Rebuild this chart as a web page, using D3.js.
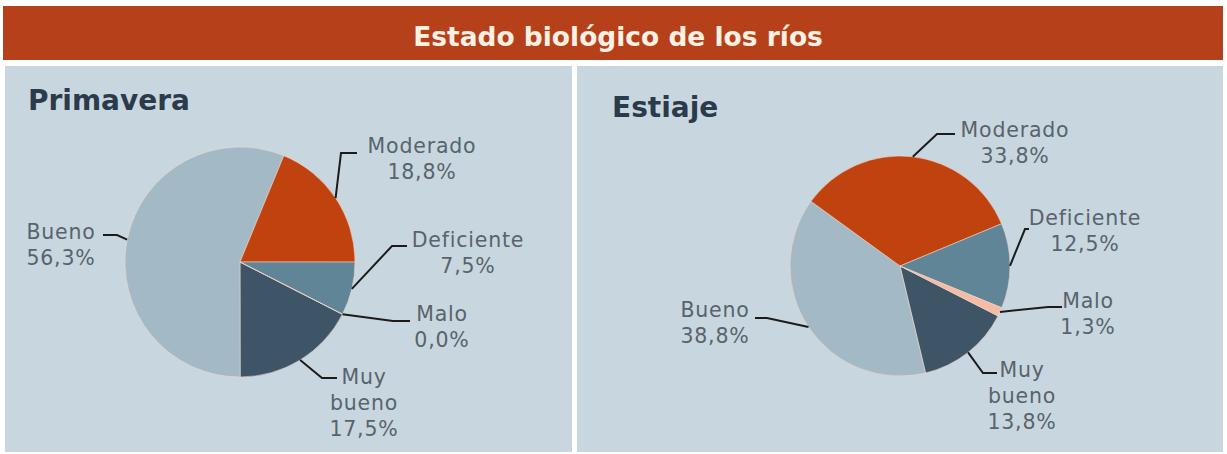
<!DOCTYPE html>
<html>
<head>
<meta charset="utf-8">
<script src="https://cdn.jsdelivr.net/npm/d3@7"></script>
<style>
  html, body { margin: 0; padding: 0; background: #ffffff; }
  svg { display: block; }
</style>
</head>
<body>
<svg id="chart" width="1227" height="454"></svg>
<script>
// ---------- DATA ----------
const title = "Estado biológico de los ríos";
const categories = ["Muy bueno", "Bueno", "Moderado", "Deficiente", "Malo"];
const labelLines = [["Muy", "bueno"], ["Bueno"], ["Moderado"], ["Deficiente"], ["Malo"]];
const panelTitles = ["Primavera", "Estiaje"];
const primaveraValues = [17.5, 56.3, 18.8, 7.5, 0.0];
const estiajeValues = [13.8, 38.8, 33.8, 12.5, 1.3];
const primaveraLabels = ["17,5%", "56,3%", "18,8%", "7,5%", "0,0%"];
const estiajeLabels = ["13,8%", "38,8%", "33,8%", "12,5%", "1,3%"];

// ---------- STYLE / LAYOUT ----------
const colors = ["#3e5568", "#a3b9c5", "#c0420f", "#5f8597", "#f4bca4"];
const W = 1227, H = 454;
const svg = d3.select("#chart");
svg.append("rect").attr("width", W).attr("height", H).attr("fill", "#ffffff");

// title bar
svg.append("rect").attr("x", 3).attr("y", 6).attr("width", 1220).attr("height", 54).attr("fill", "#b6401a");
const t = svg.append("text").attr("x", 618).attr("y", 38).attr("text-anchor", "middle")
  .attr("dominant-baseline", "middle")
  .attr("font-family", "'DejaVu Sans', sans-serif").attr("font-weight", "bold")
  .attr("font-size", 25).attr("fill", "#fdf1e4").text(title);
const tw = t.node().getComputedTextLength();
t.attr("font-size", Math.min(27, 25 * 410 / tw));

// panels layout
const panels = [
  { x: 5, w: 567, titleX: 28, titleY: 110, cx: 240, cy: 262, r: 115,
    values: primaveraValues, texts: primaveraLabels,
    // label anchor, leader elbow, leader end (relative to pie centre), per category
    lay: [
      { lab: [124, 122], elbow: [82, 116], end: [97, 116] },
      { lab: [-179, -23], elbow: [-123, -27], end: [-137, -27] },
      { lab: [182, -109], elbow: [101, -109], end: [117, -109] },
      { lab: [228, -15], elbow: [152, -16], end: [167, -16] },
      { lab: [202, 59], elbow: [153, 59], end: [170, 59] }
    ] },
  { x: 577, w: 646, titleX: 612, titleY: 117, cx: 900, cy: 266, r: 110,
    values: estiajeValues, texts: estiajeLabels,
    lay: [
      { lab: [122, 111], elbow: [83, 107], end: [97, 107] },
      { lab: [-185, 51], elbow: [-133, 52], end: [-145, 52] },
      { lab: [115, -129], elbow: [37, -132], end: [55, -132] },
      { lab: [185, -41], elbow: [125, -37], end: [129, -37] },
      { lab: [188, 42], elbow: [148, 41], end: [162, 41] }
    ] }
];

const startAngle = 117 * Math.PI / 180;
const pie = d3.pie().sort(null).value(d => d)
  .startAngle(startAngle).endAngle(startAngle + 2 * Math.PI);

panels.forEach((p, pi) => {
  svg.append("rect").attr("x", p.x).attr("y", 66).attr("width", p.w).attr("height", 386)
    .attr("fill", "#c8d7df");
  svg.append("text").attr("x", p.titleX).attr("y", p.titleY)
    .attr("font-family", "'DejaVu Sans', sans-serif").attr("font-weight", "bold")
    .attr("font-size", 28).attr("fill", "#2b3b4b").text(panelTitles[pi]);

  const g = svg.append("g").attr("transform", `translate(${p.cx},${p.cy})`);
  const arcs = pie(p.values);
  const arc = d3.arc().innerRadius(0).outerRadius(p.r);
  const edge = d3.arc().innerRadius(p.r).outerRadius(p.r);

  g.selectAll("path.slice").data(arcs).enter().append("path")
    .attr("class", "slice")
    .attr("d", arc)
    .attr("fill", (d, i) => colors[i])
    .attr("stroke", "rgba(245,215,200,0.55)")
    .attr("stroke-width", 1);

  // leaders
  arcs.forEach((d, i) => {
    const s = edge.centroid(d);
    const L = p.lay[i];
    g.append("path")
      .attr("d", d3.line()([s, L.elbow, L.end]))
      .attr("fill", "none").attr("stroke", "#1b1b1b").attr("stroke-width", 2);
    const lines = labelLines[i].concat([p.texts[i]]);
    const tx = g.append("text")
      .attr("text-anchor", "middle")
      .attr("font-family", "'DejaVu Sans', sans-serif")
      .attr("font-size", 20.5).attr("letter-spacing", 0.8).attr("fill", "#58636c");
    lines.forEach((ln, k) => {
      tx.append("tspan").attr("x", L.lab[0]).attr("y", L.lab[1] + k * 26).text(ln);
    });
  });
});
</script>
</body>
</html>
